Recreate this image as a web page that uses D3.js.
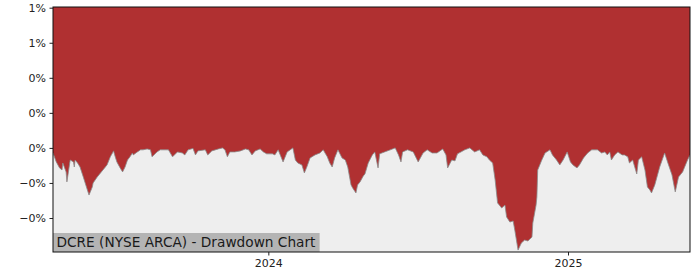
<!DOCTYPE html>
<html>
<head>
<meta charset="utf-8">
<script src="https://cdn.jsdelivr.net/npm/d3@7"></script>
<style>
  html, body { margin: 0; padding: 0; background: #ffffff; }
  svg { display: block; }
  text { font-family: "DejaVu Sans", sans-serif; }
</style>
</head>
<body>
<svg id="chart" width="700" height="280"></svg>
<script>
// ---- data ----
const dates = [
"2023-04-13","2023-04-17","2023-04-21","2023-04-24","2023-04-25","2023-04-29","2023-04-30","2023-05-04","2023-05-08","2023-05-09",
"2023-05-10","2023-05-13","2023-05-16","2023-05-20","2023-05-25","2023-05-27","2023-05-31","2023-06-01","2023-06-06","2023-06-10",
"2023-06-13","2023-06-18","2023-06-22","2023-06-26","2023-06-28","2023-06-30","2023-07-04","2023-07-07","2023-07-10","2023-07-13",
"2023-07-16","2023-07-19","2023-07-20","2023-07-25","2023-07-29","2023-08-01","2023-08-06","2023-08-10","2023-08-12","2023-08-18",
"2023-08-22","2023-08-28","2023-09-01","2023-09-06","2023-09-12","2023-09-18","2023-09-21","2023-09-25","2023-10-01","2023-10-04",
"2023-10-07","2023-10-16","2023-10-19","2023-10-24","2023-11-01","2023-11-06","2023-11-09","2023-11-12","2023-11-15","2023-11-21",
"2023-11-28","2023-12-04","2023-12-08","2023-12-12","2023-12-16","2023-12-22","2023-12-26","2023-12-30",
"2024-01-06","2024-01-09","2024-01-13","2024-01-19","2024-01-24","2024-01-31","2024-02-03","2024-02-06","2024-02-11","2024-02-14",
"2024-02-17","2024-02-21","2024-02-27","2024-03-04","2024-03-08","2024-03-13","2024-03-16","2024-03-19","2024-03-22","2024-03-26",
"2024-03-31","2024-04-04","2024-04-07","2024-04-11","2024-04-13","2024-04-17","2024-04-19","2024-04-22","2024-04-26","2024-04-28",
"2024-05-02","2024-05-07","2024-05-10","2024-05-14","2024-05-16","2024-05-22","2024-05-29","2024-06-04","2024-06-08","2024-06-11",
"2024-06-13","2024-06-19","2024-06-26","2024-07-02","2024-07-08","2024-07-13","2024-07-19","2024-07-25","2024-08-01","2024-08-05",
"2024-08-07","2024-08-12","2024-08-16","2024-08-19","2024-08-28","2024-09-03","2024-09-09","2024-09-15","2024-09-19","2024-09-24",
"2024-09-27","2024-10-01","2024-10-04","2024-10-07","2024-10-12","2024-10-16","2024-10-18","2024-10-22","2024-10-26","2024-10-28",
"2024-10-30","2024-11-01","2024-11-05","2024-11-09","2024-11-13","2024-11-18","2024-11-19","2024-11-23","2024-11-24","2024-11-25",
"2024-11-30","2024-12-04","2024-12-10","2024-12-13","2024-12-18","2024-12-22","2024-12-26","2024-12-31",
"2025-01-04","2025-01-07","2025-01-12","2025-01-15","2025-01-20","2025-01-25","2025-01-30","2025-02-06","2025-02-11","2025-02-15",
"2025-02-18","2025-02-21","2025-02-23","2025-02-27","2025-03-03","2025-03-08","2025-03-11","2025-03-15","2025-03-17","2025-03-21",
"2025-03-26","2025-03-28","2025-04-01","2025-04-05","2025-04-08","2025-04-11","2025-04-13","2025-04-17","2025-04-23","2025-04-29",
"2025-05-03","2025-05-08","2025-05-12","2025-05-16","2025-05-21","2025-05-23","2025-05-27","2025-05-30"
];
// drawdown in percent
const drawdownPct = [
-0.029,-0.080,-0.114,-0.126,-0.086,-0.137,-0.194,-0.069,-0.080,-0.109,
-0.069,-0.086,-0.109,-0.166,-0.240,-0.269,-0.223,-0.200,-0.166,-0.143,
-0.126,-0.097,-0.051,-0.017,-0.051,-0.080,-0.114,-0.137,-0.109,-0.069,
-0.051,-0.029,-0.040,-0.023,-0.011,-0.011,-0.006,-0.011,-0.051,-0.023,
-0.011,-0.011,-0.011,-0.051,-0.023,-0.029,-0.040,-0.011,-0.003,-0.040,
-0.017,-0.011,-0.040,-0.017,-0.006,0.000,-0.011,-0.051,-0.023,-0.023,
-0.017,-0.006,-0.011,-0.040,-0.017,-0.006,-0.023,-0.034,
-0.034,-0.040,-0.011,-0.080,-0.023,0.000,-0.069,-0.086,-0.097,-0.143,
-0.109,-0.057,-0.040,-0.029,-0.011,-0.051,-0.086,-0.109,-0.057,-0.011,
-0.057,-0.069,-0.109,-0.211,-0.229,-0.257,-0.211,-0.194,-0.160,-0.149,
-0.086,-0.040,-0.023,-0.114,-0.034,-0.023,-0.011,0.000,-0.040,-0.080,
-0.023,-0.011,-0.023,-0.080,-0.029,-0.011,-0.029,-0.029,-0.006,-0.040,
-0.114,-0.069,-0.074,-0.034,-0.011,0.000,-0.023,-0.011,-0.040,-0.051,
-0.069,-0.086,-0.183,-0.314,-0.343,-0.326,-0.394,-0.423,-0.417,-0.469,
-0.526,-0.583,-0.543,-0.526,-0.531,-0.509,-0.429,-0.326,-0.280,-0.126,
-0.069,-0.029,-0.011,-0.040,-0.069,-0.097,-0.069,-0.023,
-0.080,-0.097,-0.114,-0.097,-0.057,-0.029,-0.011,-0.011,-0.029,-0.023,
-0.040,-0.023,-0.069,-0.040,-0.023,-0.040,-0.040,-0.051,-0.086,-0.069,
-0.149,-0.069,-0.051,-0.126,-0.223,-0.240,-0.257,-0.211,-0.109,-0.029,
-0.086,-0.154,-0.251,-0.166,-0.137,-0.114,-0.069,-0.040
];
const yTickValues = [-0.004, -0.002, 0, 0.002, 0.004, 0.006, 0.008];
const xTickLabels = ["2024", "2025"];
const yDomain = [-0.00594, 0.00804];
const titleText = "DCRE (NYSE ARCA) - Drawdown Chart";

// ---- chart ----
const parse = d3.timeParse("%Y-%m-%d");
const data = dates.map((d, i) => ({ date: parse(d), value: drawdownPct[i] / 100 }));

const margin = { left: 53, right: 10, top: 7, bottom: 28 };
const W = 700, H = 280;
const svg = d3.select("#chart");

const x = d3.scaleTime()
  .domain(d3.extent(data, d => d.date))
  .range([margin.left, W - margin.right]);
const y = d3.scaleLinear()
  .domain(yDomain)
  .range([H - margin.bottom, margin.top]);

// plot background
svg.append("rect")
  .attr("x", margin.left).attr("y", margin.top)
  .attr("width", W - margin.right - margin.left)
  .attr("height", H - margin.bottom - margin.top)
  .attr("fill", "#eeeeee");

svg.append("clipPath").attr("id", "clip")
  .append("rect")
  .attr("x", margin.left).attr("y", margin.top)
  .attr("width", W - margin.right - margin.left)
  .attr("height", H - margin.bottom - margin.top);

const area = d3.area()
  .x(d => x(d.date))
  .y0(y(yDomain[1]))
  .y1(d => y(d.value));

svg.append("path")
  .datum(data)
  .attr("clip-path", "url(#clip)")
  .attr("fill", "#b03031")
  .attr("d", area);

const line = d3.line().x(d => x(d.date)).y(d => y(d.value));
svg.append("path")
  .datum(data)
  .attr("clip-path", "url(#clip)")
  .attr("fill", "none")
  .attr("stroke", "#8a8a8a")
  .attr("stroke-width", 0.8)
  .attr("d", line);

// title box
const tg = svg.append("g");
const tt = tg.append("text")
  .attr("x", margin.left + 3.5)
  .attr("y", H - margin.bottom - 5.5)
  .attr("font-size", "13.7px")
  .attr("fill", "#1a1a1a")
  .text(titleText);
const bb = tt.node().getBBox();
tg.insert("rect", "text")
  .attr("x", margin.left)
  .attr("y", H - margin.bottom - 19)
  .attr("width", bb.width + 7)
  .attr("height", 19)
  .attr("fill", "#b4b4b4");

// axes
const pct = d3.format(".0%");
const fmtY = d => (d < 0 ? "\u2212" : "") + pct(Math.abs(d));
const yAxis = d3.axisLeft(y)
  .tickValues(yTickValues)
  .tickFormat(fmtY)
  .tickSize(3.5)
  .tickPadding(3.5);
const gy = svg.append("g")
  .attr("transform", `translate(${margin.left},0)`)
  .call(yAxis);
gy.select(".domain").remove();
gy.selectAll("text").attr("font-size", "11px").attr("fill", "#222").attr("font-family", "DejaVu Sans, sans-serif");
gy.selectAll("line").attr("stroke", "#222");

const xTicks = xTickLabels.map(s => parse(s + "-01-01"));
const xAxis = d3.axisBottom(x)
  .tickValues(xTicks)
  .tickFormat(d3.timeFormat("%Y"))
  .tickSize(3.5)
  .tickPadding(3.5);
const gx = svg.append("g")
  .attr("transform", `translate(0,${H - margin.bottom})`)
  .call(xAxis);
gx.select(".domain").remove();
gx.selectAll("text").attr("font-size", "11px").attr("fill", "#222").attr("font-family", "DejaVu Sans, sans-serif");
gx.selectAll("line").attr("stroke", "#222");

// frame
svg.append("rect")
  .attr("x", margin.left).attr("y", margin.top)
  .attr("width", W - margin.right - margin.left)
  .attr("height", H - margin.bottom - margin.top)
  .attr("fill", "none")
  .attr("stroke", "#111")
  .attr("stroke-width", 1);
</script>
</body>
</html>
